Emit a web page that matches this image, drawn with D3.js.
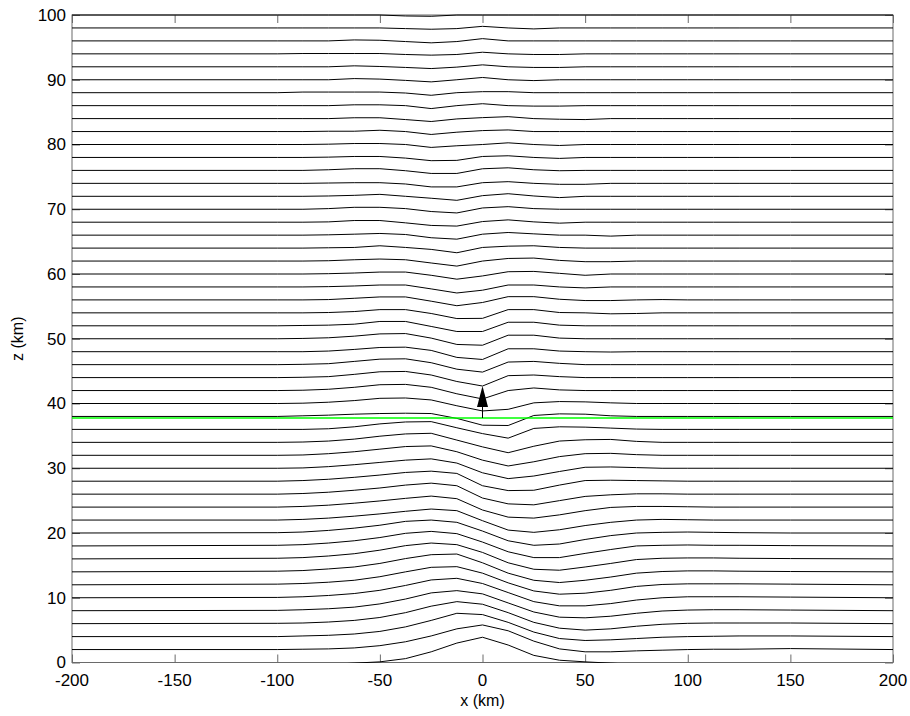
<!DOCTYPE html>
<html>
<head>
<meta charset="utf-8">
<script src="https://cdn.jsdelivr.net/npm/d3@7"></script>
<style>
  body { margin: 0; background: #fff; }
  svg { display: block; font-family: "Liberation Sans", Arial, sans-serif; }
</style>
</head>
<body>
<div id="chart"></div>
<script>
// x positions (km) where each streamline was read
const xKnots = [-200, -100, -87.5, -75, -62.5, -50, -37.5, -25, -12.5, 0, 12.5, 25, 37.5, 50, 62.5, 75, 87.5, 100, 112.5, 125, 150, 200];

// undisturbed height of each streamline (km)
const levels = [0, 2, 4, 6, 8, 10, 12, 14, 16, 18, 20, 22, 24, 26, 28, 30, 32, 34, 36, 38, 40, 42, 44, 46, 48, 50,
    52, 54, 56, 58, 60, 62, 64, 66, 68, 70, 72, 74, 76, 78, 80, 82, 84, 86, 88, 90, 92, 94, 96, 98, 100];

// vertical displacement (km) of each streamline at xKnots
const displacement = [
    [-0.3, -0.3, -0.3, -0.3, -0.1, 0.1, 0.6, 1.65, 3.0, 3.9, 2.7, 1.1, 0.35, 0.1, -0.1, -0.3, -0.3, -0.3, -0.3, -0.3, -0.3, -0.3],
    [0, 0, 0.05, 0.1, 0.25, 0.6, 1.2, 2.1, 3.2, 3.8, 2.9, 1.3, 0.1, -0.35, -0.35, -0.2, -0.1, 0, 0.05, 0.05, 0.15, 0],
    [0, 0, 0.1, 0.2, 0.4, 0.8, 1.5, 2.5, 3.6, 3.4, 2.2, 0.7, -0.3, -0.6, -0.5, -0.3, -0.1, 0, 0.05, 0.1, 0.1, 0],
    [0, 0.05, 0.1, 0.25, 0.5, 0.95, 1.7, 2.7, 3.4, 3.0, 1.7, 0.2, -0.7, -1.0, -0.8, -0.4, -0.1, 0.05, 0.1, 0.1, 0.1, 0],
    [0, 0.05, 0.15, 0.3, 0.55, 1.05, 1.8, 2.75, 3.1, 2.6, 1.2, -0.2, -1.0, -1.1, -0.85, -0.4, -0.05, 0.1, 0.15, 0.15, 0.1, 0],
    [0, 0.05, 0.15, 0.35, 0.65, 1.15, 1.9, 2.75, 3.0, 2.2, 0.8, -0.6, -1.25, -1.25, -0.9, -0.35, 0, 0.15, 0.15, 0.15, 0.1, 0],
    [0, 0.1, 0.2, 0.4, 0.7, 1.25, 2.0, 2.7, 2.8, 1.8, 0.3, -0.95, -1.45, -1.3, -0.85, -0.25, 0.05, 0.15, 0.15, 0.15, 0.1, 0],
    [0, 0.1, 0.2, 0.45, 0.75, 1.3, 2.05, 2.65, 2.75, 1.4, -0.2, -1.3, -1.65, -1.3, -0.8, -0.2, 0.05, 0.15, 0.15, 0.1, 0.05, 0],
    [0, 0.1, 0.2, 0.45, 0.8, 1.35, 2.05, 2.45, 2.2, 1.0, -0.6, -1.6, -1.75, -1.25, -0.7, -0.1, 0.1, 0.15, 0.15, 0.1, 0.05, 0],
    [0, 0.1, 0.2, 0.45, 0.8, 1.3, 1.95, 2.25, 1.9, 0.6, -0.9, -1.8, -1.8, -1.15, -0.55, 0, 0.1, 0.15, 0.1, 0.1, 0.05, 0],
    [0, 0.05, 0.15, 0.4, 0.75, 1.2, 1.8, 2.0, 1.65, 0.3, -1.2, -1.9, -1.7, -1.0, -0.4, 0, 0.1, 0.15, 0.1, 0.05, 0, 0],
    [0, 0, 0.1, 0.3, 0.6, 0.95, 1.35, 1.7, 1.45, -0.1, -1.55, -1.9, -1.5, -0.85, -0.35, 0, 0.1, 0.05, 0, 0, 0, 0],
    [0, 0, 0.1, 0.3, 0.6, 0.95, 1.35, 1.7, 1.3, -0.45, -1.55, -1.7, -1.2, -0.55, -0.05, 0.1, 0.1, 0.05, 0, 0, 0, 0],
    [0, 0, 0.1, 0.3, 0.6, 0.95, 1.4, 1.7, 1.3, -0.6, -1.5, -1.65, -1.0, -0.35, -0.1, 0.05, 0.05, 0, 0, 0, 0, 0],
    [0, 0, 0.1, 0.3, 0.6, 0.95, 1.35, 1.55, 1.2, -0.7, -1.45, -1.4, -0.6, 0.1, 0.15, 0.1, 0.05, 0, 0, 0, 0, 0],
    [0, 0, 0.05, 0.25, 0.55, 0.9, 1.25, 1.45, 0.8, -0.7, -1.6, -1.2, -0.5, 0.15, 0.2, 0.1, 0, 0, 0, 0, 0, 0],
    [0, 0, 0.05, 0.25, 0.55, 0.95, 1.35, 1.45, 0.55, -0.75, -1.65, -1.0, -0.2, 0.25, 0.3, 0.1, 0, 0, 0, 0, 0, 0],
    [0, 0, 0.05, 0.2, 0.5, 0.95, 1.3, 1.4, 0.35, -0.7, -1.6, -0.6, 0.2, 0.4, 0.45, 0.15, 0, 0, 0, 0, 0, 0],
    [0, 0, 0, 0.1, 0.4, 0.85, 1.15, 1.2, 0.25, -0.65, -1.35, 0.15, 0.4, 0.35, 0.2, 0.05, 0, 0, 0, 0, 0, 0],
    [0, 0, 0.1, 0.2, 0.35, 0.45, 0.5, 0.45, -0.3, -1.35, -1.4, 0.15, 0.4, 0.35, 0.1, 0, 0, 0, 0, 0, 0, 0],
    [0, 0, 0.05, 0.2, 0.45, 0.8, 0.85, 0.55, -0.35, -1.15, -0.9, 0.1, 0.3, 0.25, 0.1, 0, 0, 0, 0, 0, 0, 0],
    [0, 0, 0.05, 0.2, 0.5, 0.9, 0.95, 0.5, -0.5, -1.3, 0.0, 0.4, 0.1, 0, 0, 0, 0, 0, 0, 0, 0, 0],
    [0, 0, 0.05, 0.15, 0.5, 0.9, 0.95, 0.4, -0.6, -1.3, 0.3, 0.4, 0.15, 0, 0, 0, 0, 0, 0, 0, 0, 0],
    [0, 0, 0.05, 0.15, 0.5, 0.85, 0.9, 0.3, -0.7, -1.15, 0.4, 0.5, 0.2, 0, 0, 0, 0, 0, 0, 0, 0, 0],
    [0, 0, 0, 0.1, 0.35, 0.65, 0.7, 0.2, -0.88, -1.2, 0.45, 0.45, 0.1, 0, -0.05, 0, 0, 0, 0, 0, 0, 0],
    [0, 0, 0.05, 0.15, 0.4, 0.75, 0.8, 0.1, -0.88, -1.0, 0.55, 0.55, 0.1, 0, 0, 0, 0, 0, 0, 0, 0, 0],
    [0, 0, 0.05, 0.1, 0.25, 0.67, 0.67, -0.1, -0.88, -0.88, 0.55, 0.55, 0.1, 0, 0, 0, 0, 0, 0, 0, 0, 0],
    [0, 0, 0, 0.05, 0.2, 0.5, 0.5, -0.1, -0.88, -0.85, 0.5, 0.5, 0.05, 0, -0.15, -0.1, 0, 0, 0, 0, 0, 0],
    [0, 0, 0, 0.05, 0.25, 0.46, 0.46, -0.2, -0.9, -0.4, 0.5, 0.5, 0.1, -0.1, -0.1, 0, 0.05, 0, 0, 0, 0, 0],
    [0, 0, 0, 0.05, 0.15, 0.3, 0.3, -0.3, -0.93, -0.5, 0.3, 0.3, 0, -0.15, 0, 0, 0, 0, 0, 0, 0, 0],
    [0, 0, 0, 0.05, 0.15, 0.3, 0.3, -0.2, -0.8, -0.3, 0.35, 0.4, 0.1, -0.2, 0, 0, 0, 0, 0, 0, 0, 0],
    [0, 0, 0, 0.05, 0.2, 0.31, 0.2, -0.3, -0.78, 0, 0.4, 0.46, 0.1, -0.1, -0.1, 0, 0, 0, 0, 0, 0, 0],
    [0, 0, 0, 0.05, 0.1, 0.36, 0.1, -0.2, -0.72, 0.1, 0.3, 0.36, 0.1, 0, 0, 0, 0, 0, 0, 0, 0, 0],
    [0, 0, 0, 0.05, 0.15, 0.26, 0.1, -0.4, -0.62, 0.15, 0.41, 0.2, 0, 0, -0.15, 0, 0, 0, 0, 0, 0, 0],
    [0, 0, 0, 0.05, 0.26, 0.26, -0.1, -0.5, -0.6, 0.1, 0.36, 0.05, -0.15, 0, 0, 0, 0, 0, 0, 0, 0, 0],
    [0, 0, 0, 0.1, 0.3, 0.3, 0.1, -0.35, -0.57, 0.2, 0.4, 0.1, 0, 0, 0, 0, 0, 0, 0, 0, 0, 0],
    [0, 0, 0, 0.05, 0.15, 0.3, 0, -0.3, -0.62, 0.1, 0.4, 0.05, -0.2, 0, 0, 0, 0, 0, 0, 0, 0, 0],
    [0, 0, 0, 0.05, 0.1, 0.1, -0.1, -0.55, -0.55, 0.1, 0.26, 0, -0.15, -0.15, 0, 0, 0, 0, 0, 0, 0, 0],
    [0, 0, 0, 0.1, 0.26, 0.26, -0.05, -0.47, -0.47, 0.25, 0.4, 0.1, -0.05, 0, 0, 0, 0, 0, 0, 0, 0, 0],
    [0, 0, 0, 0.05, 0.15, 0.15, -0.1, -0.5, -0.45, 0.15, 0.26, 0, -0.15, 0, 0, 0, 0, 0, 0, 0, 0, 0],
    [0, 0, 0, 0.05, 0.15, 0.15, 0, -0.45, -0.2, 0, 0.26, 0, -0.15, 0, 0, 0, 0, 0, 0, 0, 0, 0],
    [0, 0, 0, 0.05, 0.05, 0.2, 0, -0.45, -0.1, 0.15, 0.25, 0, 0, 0, 0, 0, 0, 0, 0, 0, 0, 0],
    [0, 0, 0, 0, 0.13, 0.13, -0.15, -0.45, -0.05, 0.15, 0.3, 0, -0.1, -0.15, 0, 0, 0, 0, 0, 0, 0, 0],
    [0, 0, 0, 0, 0.13, 0.13, 0, -0.45, 0, 0.3, 0, -0.07, -0.07, 0, 0, 0, 0, 0, 0, 0, 0, 0],
    [0, 0, 0.1, 0.1, 0.1, 0.1, -0.05, -0.4, 0, 0.16, 0.16, 0, 0, 0, 0, 0, 0, 0, 0, 0, 0, 0],
    [0, 0, 0, 0, 0.18, 0.1, -0.1, -0.33, 0, 0.35, 0, -0.13, 0, 0, 0, 0, 0, 0, 0, 0, 0, 0],
    [0, 0, 0, 0, 0.15, 0.05, -0.1, -0.27, -0.05, 0.3, 0, -0.1, -0.1, 0, 0, 0, 0, 0, 0, 0, 0, 0],
    [0, 0, 0.05, 0.05, 0.05, 0.05, -0.1, -0.2, -0.1, 0.25, 0, -0.1, -0.1, 0, 0, 0, 0, 0, 0, 0, 0, 0],
    [0, 0, 0, 0, 0.15, 0.1, -0.1, -0.3, -0.1, 0.35, 0, 0, 0, 0, 0, 0, 0, 0, 0, 0, 0, 0],
    [0, 0, 0, 0, 0, 0, -0.1, -0.2, -0.1, 0.25, 0, -0.15, 0, 0, 0, 0, 0, 0, 0, 0, 0, 0],
    [0, 0, 0, 0, 0, 0, -0.15, -0.2, 0, 0, 0, 0, 0, 0, 0, 0, 0, 0, 0, 0, 0, 0]
];

const xTicks = [-200, -150, -100, -50, 0, 50, 100, 150, 200];
const zTicks = [0, 10, 20, 30, 40, 50, 60, 70, 80, 90, 100];

// green reference level and the upward arrow (km)
const greenLevel = 37.76;
const arrow = { x: 0, z0: 37.76, z1: 42.7 };

const width = 910, height = 716;
const margin = { top: 15, right: 17, bottom: 53.5, left: 72 };
const innerW = width - margin.left - margin.right;
const innerH = height - margin.top - margin.bottom;

const svg = d3.select("#chart").append("svg")
    .attr("width", width)
    .attr("height", height);

svg.append("rect").attr("width", width).attr("height", height).attr("fill", "#fff");

const x = d3.scaleLinear().domain([-200, 200]).range([margin.left, margin.left + innerW]);
const y = d3.scaleLinear().domain([0, 100]).range([margin.top + innerH, margin.top]);

const frameColor = "#6a6a6a";
const tickLen = 8;

// frame box
svg.append("rect")
    .attr("x", x(-200)).attr("y", y(100))
    .attr("width", innerW).attr("height", innerH)
    .attr("fill", "none").attr("stroke", frameColor).attr("stroke-width", 1);

// inward ticks on all four sides
const xAxisBottom = d3.axisBottom(x).tickValues(xTicks).tickSize(-tickLen).tickFormat("");
const xAxisTop = d3.axisTop(x).tickValues(xTicks).tickSize(-tickLen).tickFormat("");
const yAxisLeft = d3.axisLeft(y).tickValues(zTicks).tickSize(-tickLen).tickFormat("");
const yAxisRight = d3.axisRight(y).tickValues(zTicks).tickSize(-tickLen).tickFormat("");

const axes = [
    svg.append("g").attr("transform", `translate(0, ${y(0)})`).call(xAxisBottom),
    svg.append("g").attr("transform", `translate(0, ${y(100)})`).call(xAxisTop),
    svg.append("g").attr("transform", `translate(${x(-200)}, 0)`).call(yAxisLeft),
    svg.append("g").attr("transform", `translate(${x(200)}, 0)`).call(yAxisRight)
];
axes.forEach(g => {
    g.select(".domain").remove();
    g.selectAll(".tick line").attr("stroke", frameColor);
});

// tick labels
svg.append("g").selectAll("text")
    .data(xTicks)
    .join("text")
    .attr("x", d => x(d))
    .attr("y", y(0) + 23)
    .attr("text-anchor", "middle")
    .attr("font-size", 17)
    .text(d => d);

svg.append("g").selectAll("text")
    .data(zTicks)
    .join("text")
    .attr("x", x(-200) - 6)
    .attr("y", d => y(d))
    .attr("dy", "0.35em")
    .attr("text-anchor", "end")
    .attr("font-size", 17)
    .text(d => d);

// axis titles
svg.append("text")
    .attr("x", x(0))
    .attr("y", 706)
    .attr("text-anchor", "middle")
    .attr("font-size", 16)
    .text("x (km)");

svg.append("text")
    .attr("transform", `translate(23, ${y(50)}) rotate(-90)`)
    .attr("text-anchor", "middle")
    .attr("font-size", 16)
    .text("z (km)");

// streamlines
svg.append("clipPath").attr("id", "plot-clip")
    .append("rect")
    .attr("x", x(-200)).attr("y", y(100) - 1)
    .attr("width", innerW).attr("height", innerH + 1.5);

const streamData = levels.map((z, i) => xKnots.map((xv, j) => [xv, z + displacement[i][j]]));

const line = d3.line()
    .x(d => x(d[0]))
    .y(d => y(d[1]));

svg.append("g")
    .attr("clip-path", "url(#plot-clip)")
    .selectAll("path")
    .data(streamData)
    .join("path")
    .attr("d", line)
    .attr("fill", "none")
    .attr("stroke", "#000")
    .attr("stroke-width", 1);

// green level
svg.append("line")
    .attr("x1", x(-200)).attr("x2", x(200))
    .attr("y1", y(greenLevel)).attr("y2", y(greenLevel))
    .attr("stroke", "#00ff00")
    .attr("stroke-width", 1.5);

// upward arrow
const headLen = 21, headHalf = 5.5;
const ax = x(arrow.x), ay0 = y(arrow.z0), ay1 = y(arrow.z1);
svg.append("line")
    .attr("x1", ax).attr("x2", ax)
    .attr("y1", ay0).attr("y2", ay1 + headLen)
    .attr("stroke", "#000").attr("stroke-width", 1);
svg.append("path")
    .attr("d", `M${ax},${ay1} L${ax + headHalf},${ay1 + headLen} L${ax - headHalf},${ay1 + headLen} Z`)
    .attr("fill", "#000");
</script>
</body>
</html>
